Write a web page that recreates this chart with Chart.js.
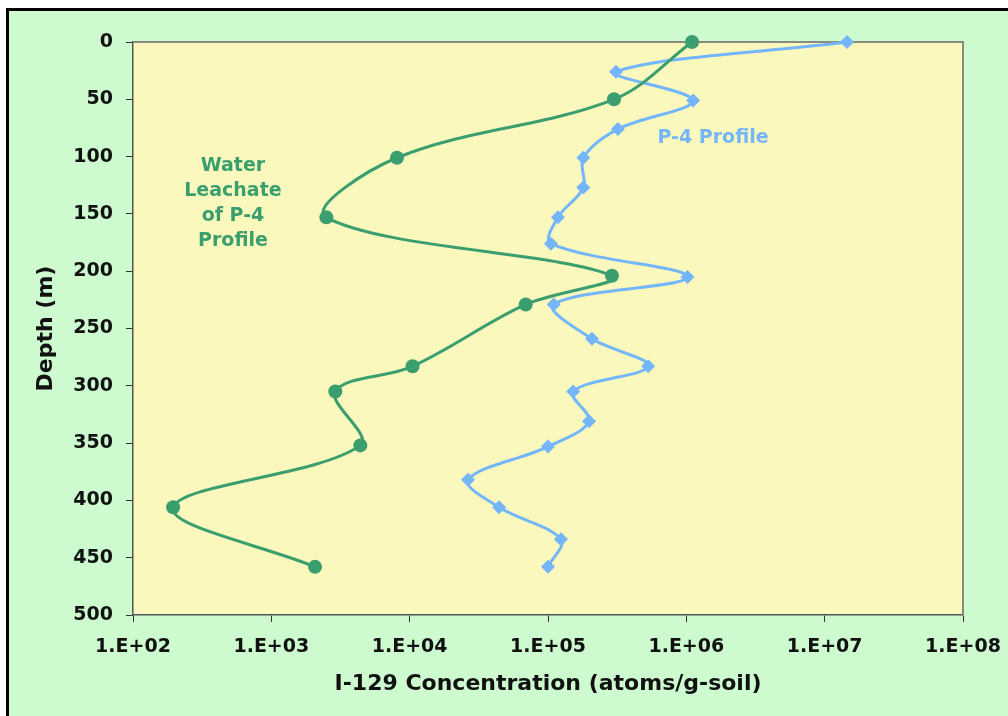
<!DOCTYPE html>
<html><head><meta charset="utf-8">
<script src="https://cdn.jsdelivr.net/npm/chart.js@4.4.1/dist/chart.umd.min.js"></script>
<style>
html,body{margin:0;padding:0;background:#fff;width:1008px;height:716px;overflow:hidden;}
#frame{position:absolute;left:6px;top:8px;width:1010px;height:720px;background:#cdfbcf;border-top:3px solid #000;border-left:3px solid #000;}
#c{position:absolute;left:0;top:0;}
</style></head><body>
<div id="frame"></div>
<canvas id="c" width="1008" height="716"></canvas>
<script>
// Water leachate of P-4 profile (green circles)
const leachateDepth = [0, 50, 101, 153, 204, 229, 283, 305, 352, 406, 458];
const leachateConc  = [1.1e6, 3.0e5, 8.1e3, 2.5e3, 2.9e5, 6.9e4, 1.05e4, 2.9e3, 4.4e3, 1.95e2, 2.07e3];
// P-4 profile (blue diamonds)
const profileDepth = [0, 26, 51, 76, 101, 127, 153, 176, 205, 229, 259, 283, 305, 331, 353, 382, 406, 434, 458];
const profileConc  = [1.45e7, 3.1e5, 1.12e6, 3.2e5, 1.8e5, 1.8e5, 1.18e5, 1.05e5, 1.02e6, 1.1e5, 2.08e5, 5.3e5, 1.52e5, 1.98e5, 1.0e5, 2.64e4, 4.43e4, 1.24e5, 1.0e5];
// Axis ticks
const xTickValues = [1e2, 1e3, 1e4, 1e5, 1e6, 1e7, 1e8];
const xTickLabels = ['1.E+02', '1.E+03', '1.E+04', '1.E+05', '1.E+06', '1.E+07', '1.E+08'];
const yTickValues = [0, 50, 100, 150, 200, 250, 300, 350, 400, 450, 500];
const xTitle = 'I-129 Concentration (atoms/g-soil)';
const yTitle = 'Depth (m)';
const annP4 = {text: ['P-4 Profile'], x: 1.56e6, y: 84};
const annLeach = {text: ['Water', 'Leachate', 'of P-4', 'Profile'], x: 528, y: 108, lineStep: 21.8};

const GREEN = '#3a9e6e';
const BLUE = '#74b6fb';
const FONT = '"DejaVu Sans", Verdana, sans-serif';

const toPts = (xs, ys) => xs.map((v, i) => ({x: v, y: ys[i]}));

const plotBg = {
  id: 'plotBg',
  beforeDraw(chart) {
    const {ctx, chartArea: a} = chart;
    ctx.save();
    ctx.fillStyle = '#faf8bc';
    ctx.fillRect(a.left, a.top, a.right - a.left, a.bottom - a.top);
    ctx.restore();
  },
  beforeDatasetsDraw(chart) {
    const {ctx, chartArea: a} = chart;
    ctx.save();
    ctx.strokeStyle = '#8a8a80';
    ctx.lineWidth = 2;
    ctx.beginPath();
    ctx.moveTo(a.left, a.top); ctx.lineTo(a.right, a.top); ctx.lineTo(a.right, a.bottom);
    ctx.stroke();
    ctx.restore();
  },
  afterDatasetsDraw(chart) {
    const {ctx, scales} = chart;
    ctx.save();
    ctx.font = 'bold 19px ' + FONT;
    ctx.textAlign = 'center';
    ctx.textBaseline = 'middle';
    const draw = (ann, color) => {
      const px = scales.x.getPixelForValue(ann.x);
      ann.text.forEach((t, i) => {
        const py = scales.y.getPixelForValue(ann.y + i * (ann.lineStep || 0));
        ctx.fillStyle = color;
        ctx.fillText(t, px, py);
      });
    };
    draw(annP4, BLUE);
    draw(annLeach, GREEN);
    ctx.restore();
  }
};

new Chart(document.getElementById('c'), {
  type: 'scatter',
  data: {
    datasets: [
      {
        label: 'Water Leachate of P-4 Profile',
        data: toPts(leachateConc, leachateDepth),
        showLine: true,
        tension: 0.35,
        borderColor: GREEN,
        backgroundColor: GREEN,
        borderWidth: 3,
        pointStyle: 'circle',
        pointRadius: 7,
        pointBorderWidth: 0,
        clip: false
      },
      {
        label: 'P-4 Profile',
        data: toPts(profileConc, profileDepth),
        showLine: true,
        tension: 0.35,
        borderColor: BLUE,
        backgroundColor: BLUE,
        borderWidth: 3,
        pointStyle: 'rectRot',
        pointRadius: 7,
        pointBorderWidth: 0,
        clip: false
      }
    ]
  },
  options: {
    responsive: false,
    animation: false,
    events: [],
    layout: {padding: {left: 0, top: 42, right: 45, bottom: 0}},
    plugins: {legend: {display: false}, tooltip: {enabled: false}},
    scales: {
      x: {
        type: 'logarithmic',
        min: 1e2, max: 1e8,
        afterBuildTicks: s => { s.ticks = xTickValues.map(v => ({value: v})); },
        afterFit: s => { s.height = 101; s.paddingLeft = 0; s.paddingRight = 0; },
        grid: {display: true, drawOnChartArea: false, drawTicks: true, tickLength: 7, color: '#333', lineWidth: 1},
        border: {display: true, color: '#555', width: 1.5},
        ticks: {
          padding: 14,
          color: '#111',
          font: {family: FONT, size: 19, weight: 'bold'},
          maxRotation: 0, autoSkip: false,
          callback: v => { const i = xTickValues.indexOf(v); return i >= 0 ? xTickLabels[i] : ''; }
        },
        title: {display: true, text: xTitle, color: '#111', padding: {top: 0, bottom: 19},
          font: {family: FONT, size: 22, weight: 'bold'}}
      },
      y: {
        type: 'linear',
        reverse: true,
        min: 0, max: 500,
        afterBuildTicks: s => { s.ticks = yTickValues.map(v => ({value: v})); },
        afterFit: s => { s.width = 133; s.paddingTop = 0; s.paddingBottom = 0; },
        grid: {display: true, drawOnChartArea: false, drawTicks: true, tickLength: 7, color: '#333', lineWidth: 1},
        border: {display: true, color: '#555', width: 1.5},
        ticks: {
          padding: 13,
          color: '#111',
          font: {family: FONT, size: 19, weight: 'bold'},
          autoSkip: false,
          callback: v => String(v)
        },
        title: {display: true, text: yTitle, color: '#111', padding: {top: 33, bottom: 0},
          font: {family: FONT, size: 22, weight: 'bold'}}
      }
    }
  },
  plugins: [plotBg]
});
</script>
</body></html>
